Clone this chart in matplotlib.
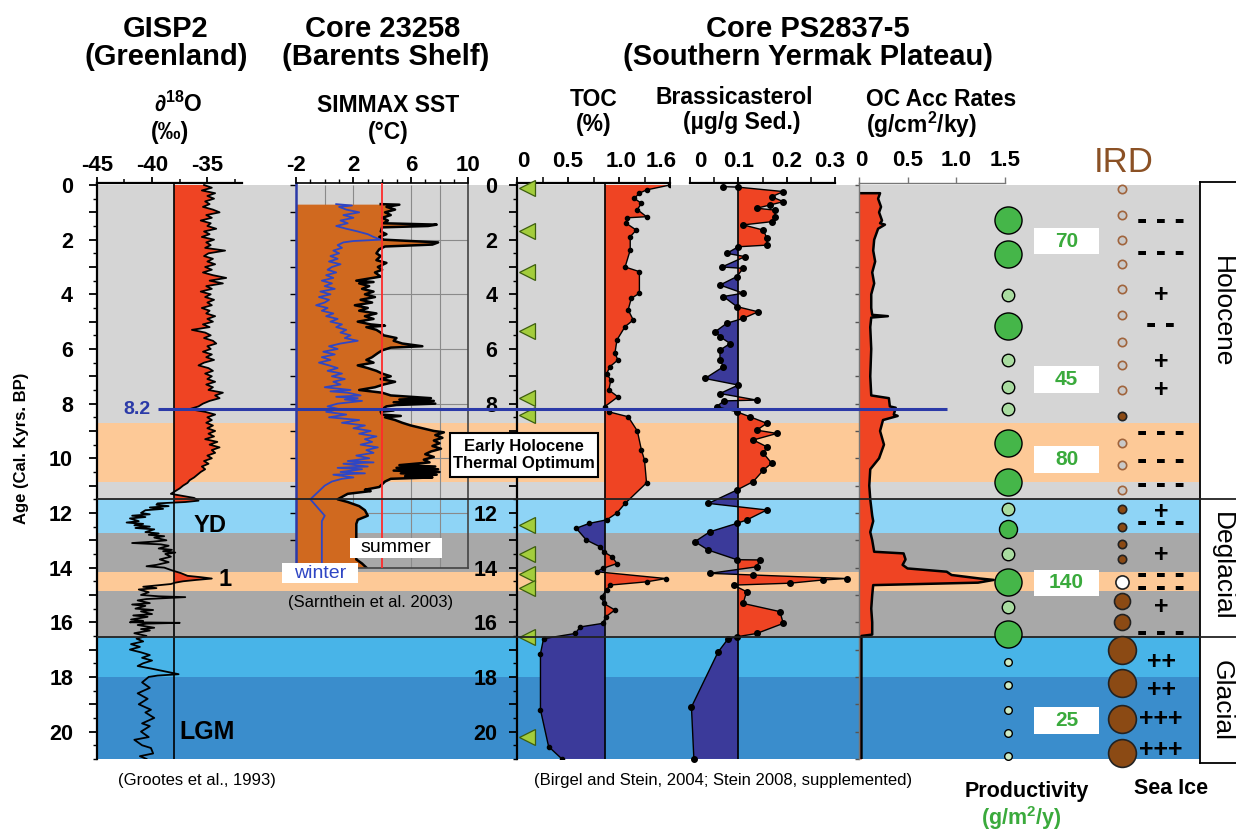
import matplotlib
matplotlib.use("Agg")
import matplotlib.pyplot as plt
from matplotlib.patches import Rectangle
from matplotlib.ticker import MultipleLocator
from matplotlib.transforms import ScaledTranslation
import numpy as np

plt.rcParams.update({
    "font.family": ["Liberation Sans", "DejaVu Sans"],
    "font.weight": "bold",
    "axes.unicode_minus": False,
    "mathtext.fontset": "custom",
    "mathtext.rm": "Liberation Sans:bold",
    "mathtext.bf": "Liberation Sans:bold",
    "mathtext.it": "Liberation Sans:bold:italic",
    "mathtext.default": "bf",
})

# ---------------- data ----------------
# climate stages (cal. kyr BP) used as background bands
band_top = [0.0, 8.7, 10.86, 11.5, 12.72, 14.15, 14.84, 16.55, 18.01]
band_bot = [8.7, 10.86, 11.5, 12.72, 14.15, 14.84, 16.55, 18.01, 21.0]
band_col = ["#d5d5d5", "#fdc997", "#d5d5d5", "#8ed4f6", "#a8a8a8",
            "#fdc997", "#a8a8a8", "#48b4e8", "#3a8dcc"]
stage_bounds = [11.5, 16.55]
stage_names = ["Holocene", "Deglacial", "Glacial"]
stage_mid = [4.64, 13.97, 18.87]

# GISP2 d18O (permil)
gisp_age = [
    0.0, 0.1, 0.2, 0.3, 0.4, 0.5, 0.6, 0.7, 0.8, 0.9,
    1.0, 1.1, 1.2, 1.3, 1.4, 1.5, 1.6, 1.7, 1.8, 1.9,
    2.0, 2.1, 2.2, 2.3, 2.4, 2.5, 2.6, 2.7, 2.8, 2.9,
    3.0, 3.1, 3.2, 3.3, 3.4, 3.5, 3.6, 3.7, 3.8, 3.9,
    4.0, 4.1, 4.2, 4.3, 4.4, 4.5, 4.6, 4.7, 4.8, 4.9,
    5.0, 5.1, 5.2, 5.3, 5.4, 5.5, 5.6, 5.7, 5.8, 5.9,
    6.0, 6.1, 6.2, 6.3, 6.4, 6.5, 6.6, 6.7, 6.8, 6.9,
    7.0, 7.1, 7.2, 7.3, 7.4, 7.5, 7.6, 7.7, 7.8, 7.9,
    8.0, 8.1, 8.2, 8.3, 8.4, 8.5, 8.6, 8.7, 8.8, 8.9,
    9.0, 9.1, 9.2, 9.3, 9.4, 9.5, 9.6, 9.7, 9.8, 9.9,
    10.0, 10.1, 10.2, 10.3, 10.4, 10.5, 10.6, 10.7, 10.8, 10.9,
    11.0, 11.1, 11.2, 11.3,
    11.35, 11.45, 11.55, 11.6, 11.65, 11.7, 11.75, 11.8, 11.85, 11.9,
    12.0, 12.05, 12.1, 12.15, 12.2, 12.3, 12.35, 12.4, 12.45, 12.5,
    12.55, 12.6, 12.7, 12.75, 12.8, 12.85, 12.9, 13.0, 13.05, 13.1,
    13.15, 13.2, 13.3, 13.35, 13.4, 13.45, 13.5, 13.6, 13.7, 13.8,
    13.9, 13.95, 14.0, 14.1, 14.2, 14.3, 14.35, 14.4, 14.45, 14.5,
    14.55, 14.6, 14.7, 14.75, 14.8, 14.9, 15.0, 15.05, 15.08, 15.15,
    15.2, 15.3, 15.35, 15.4, 15.5, 15.55, 15.6, 15.7, 15.75, 15.8,
    15.9, 15.95, 16.0, 16.02, 16.05, 16.1, 16.2, 16.25, 16.3, 16.4,
    16.5, 16.6, 16.7, 16.8, 16.9, 17.0, 17.1, 17.2, 17.3, 17.4,
    17.5, 17.6, 17.7, 17.8, 17.9, 17.95, 18.0, 18.2, 18.4, 18.6,
    18.8, 19.0, 19.2, 19.3, 19.5, 19.7, 19.8, 20.0, 20.2, 20.3,
    20.5, 20.6, 20.8, 20.9, 21.0,
]
gisp_d18o = [
    -35.3, -34.6, -35.5, -34.3, -35.0, -34.4, -35.2, -34.8, -35.4, -34.5,
    -33.9, -35.1, -34.6, -35.6, -34.7, -35.0, -34.2, -35.3, -34.8, -35.5,
    -34.4, -35.1, -34.7, -35.2, -33.4, -34.9, -35.3, -34.5, -35.0, -34.3,
    -35.2, -34.6, -35.4, -34.5, -33.3, -34.8, -33.6, -35.1, -34.6, -35.6,
    -34.7, -35.2, -34.4, -35.0, -34.6, -35.5, -34.8, -35.1, -34.3, -35.0,
    -34.5, -35.4, -34.8, -36.4, -35.2, -34.7, -35.3, -34.5, -34.2, -35.0,
    -34.7, -35.4, -34.6, -35.1, -34.4, -35.3, -35.8, -34.9, -34.5, -35.2,
    -34.6, -35.0, -34.3, -35.1, -34.5, -34.9, -33.6, -34.3, -33.9, -34.8,
    -35.4, -35.8, -36.6, -35.2, -34.3, -35.0, -34.6, -35.1, -34.5, -35.0,
    -34.3, -34.9, -34.4, -35.2, -34.1, -34.8, -33.9, -34.6, -34.3, -35.0,
    -34.6, -35.3, -34.9, -35.5, -35.2, -35.6, -35.9, -36.2, -36.6, -36.8,
    -37.2, -37.5, -37.9, -38.3,
    -37.6, -36.2, -35.8, -37.0, -39.5, -39.6, -38.5, -40.2, -39.0, -40.6,
    -41.0, -40.2, -41.8, -40.6, -42.0, -41.2, -42.3, -40.8, -41.6, -40.2,
    -41.5, -39.8, -40.6, -39.4, -40.3, -38.9, -39.8, -38.7, -39.9, -41.8,
    -39.2, -38.5, -39.4, -38.2, -39.0, -37.9, -38.8, -38.3, -39.3, -38.5,
    -39.6, -40.5, -38.9, -38.2, -37.4, -36.8, -35.6, -34.6, -36.0, -37.2,
    -37.9, -38.3, -40.8, -39.6, -41.2, -40.3, -41.0, -39.4, -37.0, -40.5,
    -41.3, -40.2, -41.8, -40.6, -41.5, -39.9, -41.0, -40.0, -41.7, -40.4,
    -41.9, -40.8, -42.0, -37.5, -40.5, -41.3, -39.8, -41.0, -40.2, -41.6,
    -40.5, -41.4, -40.8, -41.9, -41.1, -42.0, -41.0, -40.2, -40.9, -40.0,
    -40.8, -41.3, -40.0, -38.8, -37.6, -39.5, -40.3, -40.9, -40.2, -41.3,
    -40.4, -41.2, -40.1, -40.6, -39.8, -40.9, -40.2, -41.0, -40.3, -41.6,
    -40.9, -40.1, -39.9, -41.1, -40.5,
]
gisp_ref = -38.0

# Core 23258 SIMMAX SST (deg C)
sst_age = [
    0.7, 0.72, 0.8, 0.9, 1.0, 1.1, 1.2, 1.3, 1.4, 1.45,
    1.5, 1.55, 1.7, 1.8, 1.9, 2.0, 2.1, 2.18, 2.25, 2.35,
    2.5, 2.6, 2.75, 2.85, 3.0, 3.1, 3.2, 3.35, 3.5, 3.55,
    3.6, 3.7, 3.8, 3.9, 4.0, 4.1, 4.2, 4.3, 4.4, 4.5,
    4.6, 4.7, 4.8, 4.9, 5.0, 5.1, 5.15, 5.2, 5.3, 5.4,
    5.5, 5.6, 5.7, 5.8, 5.9, 5.95, 6.05, 6.15, 6.3, 6.4,
    6.5, 6.6, 6.7, 6.8, 6.9, 7.0, 7.1, 7.2, 7.3, 7.4,
    7.5, 7.6, 7.7, 7.8, 7.85, 7.9, 7.95, 8.0, 8.05, 8.1,
    8.2, 8.25, 8.3, 8.4, 8.45, 8.5, 8.6, 8.7, 8.8, 8.9,
    9.0, 9.05, 9.15, 9.25, 9.35, 9.45, 9.55, 9.65, 9.75, 9.85,
    9.95, 10.05, 10.15, 10.25, 10.3, 10.35, 10.4, 10.45, 10.5, 10.55,
    10.6, 10.65, 10.7, 10.75, 10.85, 10.95, 11.05, 11.15, 11.2, 11.3,
    11.5, 11.6, 11.75, 11.9, 12.1, 12.25, 12.4, 13.7, 13.85, 14.0,
]
sst_summer = [
    3.9, 5.2, 4.3, 4.9, 4.2, 4.6, 4.0, 4.4, 4.1, 7.8,
    7.2, 4.0, 3.9, 4.3, 3.8, 4.1, 7.9, 7.5, 4.2, 3.8,
    3.6, 3.9, 3.6, 4.3, 3.7, 4.0, 3.5, 3.9, 2.2, 3.4,
    2.4, 3.1, 2.6, 3.4, 2.8, 3.5, 2.5, 3.3, 2.1, 3.0,
    2.4, 3.6, 2.8, 3.4, 2.3, 3.2, 4.2, 2.9, 3.6, 3.9,
    4.1, 5.0, 4.8, 5.4, 6.8, 4.6, 4.0, 3.7, 3.3, 2.9,
    3.4, 2.3, 3.0, 3.6, 4.0, 4.6, 3.9, 4.9, 4.1, 3.5,
    2.4, 4.0, 4.6, 7.4, 5.2, 7.6, 4.8, 7.7, 5.0, 4.3,
    4.0, 4.8, 3.9, 4.0, 5.3, 4.2, 4.9, 5.4, 6.0, 6.8,
    7.6, 8.3, 7.7, 8.2, 7.6, 8.0, 7.5, 8.1, 7.4, 7.0,
    7.6, 6.9, 7.3, 5.2, 7.7, 5.0, 7.9, 4.8, 8.0, 5.3,
    7.8, 5.6, 7.5, 4.6, 4.2, 4.0, 3.8, 2.8, 3.2, 1.6,
    0.9, 1.6, 2.4, 2.8, 3.0, 2.3, 2.2, 2.2, 2.6, 2.9,
]
win_age = [
    0.7, 0.75, 0.8, 0.9, 1.0, 1.1, 1.2, 1.3, 1.4, 1.5,
    1.6, 1.7, 1.8, 1.9, 2.0, 2.05, 2.1, 2.2, 2.3, 2.4,
    2.5, 2.6, 2.7, 2.8, 2.9, 3.0, 3.1, 3.2, 3.3, 3.4,
    3.5, 3.6, 3.7, 3.8, 3.9, 4.0, 4.1, 4.2, 4.3, 4.4,
    4.5, 4.6, 4.7, 4.8, 4.9, 5.0, 5.1, 5.2, 5.3, 5.4,
    5.5, 5.6, 5.7, 5.8, 5.9, 6.0, 6.1, 6.2, 6.3, 6.4,
    6.5, 6.6, 6.7, 6.8, 6.9, 7.0, 7.1, 7.2, 7.3, 7.4,
    7.5, 7.55, 7.6, 7.7, 7.75, 7.8, 7.85, 7.9, 8.0, 8.1,
    8.2, 8.3, 8.4, 8.5, 8.6, 8.7, 8.8, 8.9, 9.0, 9.1,
    9.2, 9.3, 9.4, 9.5, 9.6, 9.7, 9.8, 9.9, 10.0, 10.1,
    10.15, 10.2, 10.3, 10.35, 10.4, 10.5, 10.55, 10.6, 10.7, 10.75,
    10.85, 11.0, 11.2, 11.5, 11.8, 12.1, 12.3, 14.0,
]
sst_winter = [
    0.8, 1.9, 1.0, 1.5, 2.4, 1.3, 2.0, 1.1, 1.6, 0.8,
    1.5, 2.3, 3.0, 3.4, 3.9, 2.0, 1.3, 0.9, 1.2, 0.6,
    1.0, 0.4, 0.9, 0.3, 1.1, 0.5, 0.2, 0.8, 0.1, 0.6,
    -0.2, 0.5, 0.0, 0.7, -0.3, 0.4, -0.4, 0.3, 0.0, -0.6,
    0.2, -0.2, 0.6, 0.1, 0.9, 0.4, 1.2, 0.8, 1.5, 1.1,
    1.8, 1.4, 2.3, 1.1, 0.3, 0.9, -0.1, 0.7, -0.2, 0.4,
    -0.4, 0.3, 0.9, 0.2, 1.2, 0.5, 1.4, 0.6, 1.1, 0.0,
    1.8, 0.4, 1.6, 2.5, 0.8, 2.3, 1.4, 2.6, 0.9, 0.2,
    1.0, 0.1, 1.5, 0.3, 2.4, 1.2, 2.8, 2.0, 3.2, 2.4,
    3.6, 2.8, 3.3, 2.5, 3.7, 2.9, 3.4, 2.2, 3.1, 1.6,
    3.4, 1.3, 3.0, 0.9, 2.6, 1.1, 2.8, 0.6, 2.0, 1.2,
    0.5, 0.0, -0.4, -1.0, -0.5, 0.0, -0.2, -0.2,
]
sst_ref = 4.0

# PS2837-5 total organic carbon (%)
toc_age = [
    0.0, 0.18, 0.3, 0.49, 0.67, 0.9, 1.16, 1.2, 1.4, 1.65,
    1.89, 2.38, 3.0, 3.17, 3.96, 4.15, 4.57, 4.94, 5.18, 5.67,
    6.16, 6.4, 6.65, 6.9, 7.14, 7.5, 7.75, 8.11, 8.3, 8.48,
    9.0, 9.7, 10.06, 10.9, 11.65, 12.0, 12.25, 12.38, 12.56, 12.99,
    13.23, 13.42, 13.6, 13.85, 14.03, 14.15, 14.4, 14.52, 14.64, 14.82,
    15.06, 15.31, 15.55, 15.8, 16.04, 16.17, 16.41, 16.6, 17.15, 19.2,
    20.55, 21.0,
]
toc_val = [
    1.5, 1.27, 1.2, 1.15, 1.22, 1.18, 1.27, 1.08, 1.07, 1.17,
    1.11, 1.11, 1.06, 1.20, 1.20, 1.12, 1.09, 1.14, 1.06, 0.98,
    0.96, 0.99, 0.91, 0.88, 0.92, 0.90, 0.99, 0.86, 0.90, 1.09,
    1.18, 1.22, 1.25, 1.27, 1.06, 0.98, 0.88, 0.71, 0.58, 0.68,
    0.81, 0.85, 0.93, 0.98, 0.84, 0.78, 1.46, 1.27, 0.91, 0.88,
    0.83, 0.85, 0.96, 0.87, 0.84, 0.62, 0.57, 0.26, 0.23, 0.23,
    0.31, 0.44,
]
toc_ref = 0.86
toc_ticks = [0, 0.5, 1.0, 1.5]
toc_tick_labels = ["0", "0.5", "1.0", "1.6"]
# age labels of the TOC axis; 10 sits under the Early Holocene box
toc_age_labels = [str(i) if i % 2 == 0 and i != 10 else "" for i in range(21)]
# AMS 14C dated levels
date_age = [0.1, 1.7, 3.2, 5.35, 7.8, 8.4, 12.45, 13.5, 14.25, 14.75, 16.55, 20.2]

# PS2837-5 brassicasterol (ug/g sed.)
brass_age = [
    0.06, 0.08, 0.24, 0.43, 0.61, 0.73, 0.85, 0.92, 1.16, 1.34,
    1.46, 1.65, 1.95, 2.2, 2.26, 2.5, 2.62, 3.0, 3.05, 3.35,
    3.66, 3.96, 4.08, 4.45, 4.64, 4.88, 5.06, 5.37, 5.55, 5.8,
    6.04, 6.4, 6.65, 7.08, 7.32, 7.63, 7.87, 7.9, 8.11, 8.3,
    8.48, 8.72, 8.97, 9.09, 9.33, 9.58, 9.82, 10.18, 10.43, 10.85,
    11.16, 11.65, 11.89, 12.26, 12.38, 12.69, 13.05, 13.36, 13.71, 13.72,
    13.97, 14.21, 14.27, 14.4, 14.45, 14.57, 14.64, 14.88, 15.31, 15.61,
    16.04, 16.41, 16.53, 16.6, 17.09, 19.1, 21.0,
]
brass_val = [
    0.069, 0.10, 0.193, 0.169, 0.193, 0.166, 0.138, 0.176, 0.176, 0.17,
    0.11, 0.152, 0.159, 0.159, 0.10, 0.076, 0.114, 0.066, 0.11, 0.097,
    0.062, 0.11, 0.069, 0.097, 0.141, 0.11, 0.076, 0.052, 0.062, 0.083,
    0.062, 0.062, 0.069, 0.031, 0.10, 0.062, 0.138, 0.07, 0.055, 0.097,
    0.124, 0.159, 0.138, 0.18, 0.131, 0.159, 0.152, 0.169, 0.152, 0.131,
    0.097, 0.038, 0.159, 0.117, 0.097, 0.041, 0.010, 0.038, 0.097, 0.145,
    0.138, 0.041, 0.131, 0.324, 0.276, 0.207, 0.09, 0.117, 0.11, 0.186,
    0.193, 0.138, 0.097, 0.079, 0.058, 0.003, 0.008,
]
brass_ref = 0.1
brass_ticks = [0, 0.1, 0.2, 0.3]
brass_tick_labels = ["0", "0.1", "0.2", "0.3"]

# PS2837-5 organic carbon accumulation rates (g/cm2/ky)
oc_age = [
    0.3, 0.3, 0.5, 0.8, 1.0, 1.3, 1.4, 1.45, 1.6, 2.0,
    2.4, 2.8, 3.2, 3.6, 4.0, 4.5, 4.75, 4.8, 4.85, 5.2,
    6.0, 7.0, 7.7, 7.8, 8.1, 8.15, 8.4, 8.45, 8.6, 9.0,
    9.5, 10.0, 10.4, 11.0, 11.5, 12.1, 12.3, 12.7, 13.0, 13.42,
    13.48, 13.7, 13.9, 14.03, 14.15, 14.27, 14.4, 14.45, 14.55, 14.64,
    15.0, 15.5, 16.0, 16.45, 16.5, 21.0,
]
oc_val = [
    0.0, 0.22, 0.20, 0.23, 0.21, 0.24, 0.22, 0.27, 0.20, 0.16,
    0.15, 0.17, 0.14, 0.16, 0.13, 0.13, 0.14, 0.30, 0.13, 0.12,
    0.13, 0.12, 0.13, 0.31, 0.32, 0.38, 0.36, 0.40, 0.25, 0.22,
    0.26, 0.21, 0.12, 0.11, 0.12, 0.14, 0.15, 0.12, 0.14, 0.16,
    0.46, 0.48, 0.45, 0.50, 0.90, 0.95, 1.24, 1.38, 1.22, 0.15,
    0.14, 0.13, 0.14, 0.14, 0.03, 0.03,
]
oc_ticks = [0, 0.5, 1.0, 1.5]
oc_tick_labels = ["0", "0.5", "1.0", "1.5"]

# productivity classes
prod_age = [1.28, 2.54, 4.02, 5.15, 6.4, 7.38, 8.21, 9.43, 10.85, 11.87,
            12.6, 13.5, 14.51, 15.43, 16.43, 17.44, 18.3, 19.2, 20.06, 20.9]
prod_class = ["high", "high", "low", "high", "low", "low", "low", "high", "high", "low",
              "mid", "low", "high", "low", "high", "min", "min", "min", "min", "min"]
prod_rate = ["70", "45", "80", "140", "25"]
prod_rate_age = [2.05, 7.13, 10.03, 14.56, 19.58]

# IRD classes
ird_age = [0.16, 1.1, 2.0, 2.9, 3.8, 4.76, 5.76, 6.59, 7.5, 8.45, 9.43, 10.25,
           11.16, 11.87, 12.53, 13.14, 13.7, 14.51, 15.21, 15.98,
           17.01, 18.23, 19.55, 20.77]
ird_class = ["trace"] * 9 + ["few"] + ["trace"] * 3 + ["few"] * 4 + ["none"] \
    + ["common"] * 2 + ["abundant"] * 4

# sea ice cover
ice_age = [1.32, 2.48, 4.02, 5.12, 6.46, 7.5, 9.09, 10.09, 10.98, 11.95,
           12.38, 13.54, 14.27, 14.76, 15.45, 16.4, 17.47, 18.48, 19.55, 20.67]
ice_sym = ["- - -", "- - -", "+", "- -", "+", "+", "- - -", "- - -", "- - -", "+",
           "- - -", "+", "- - -", "- - -", "+", "- - -", "++", "++", "+++", "+++"]

# ---------------- styles ----------------
RED = "#ef4423"
NAVY = "#3b3a9a"
ORANGE = "#d0691f"
BLUE = "#2b3aa8"
GREEN = "#3aaa3c"
BROWN = "#8b4a14"

prod_ms = {"high": 19.5, "mid": 13, "low": 9, "min": 5.5}
prod_fc = {"high": "#45b649", "mid": "#45b649", "low": "#a9dca0", "min": "#cdeac4"}
ird_ms = {"trace": 6, "few": 6, "none": 9.5, "common": 11.5, "abundant": 20}
ird_fc = {"trace": "#c9c9c9", "few": BROWN, "none": "white", "common": BROWN, "abundant": BROWN}
ird_ec = {"trace": "#a0643c", "few": "#222222", "none": "#222222", "common": "#222222",
          "abundant": "#222222"}

# ---------------- layout (pixels) ----------------
W, H = 1236, 831
Y0, K = 185.0, 27.33      # row of age 0, pixels per kyr
TOP = 183.0

fig = plt.figure(figsize=(W / 100, H / 100), dpi=100)
fig.patch.set_facecolor("white")


def px_ax(x0, x1, y0, y1, z=1):
    ax = fig.add_axes([x0 / W, 1 - y1 / H, (x1 - x0) / W, (y1 - y0) / H])
    ax.set_zorder(z)
    ax.patch.set_alpha(0)
    return ax


def age_ax(x0, x1, age_max=21.0, z=1):
    ax = px_ax(x0, x1, TOP, Y0 + K * age_max, z)
    ax.set_ylim(age_max, (TOP - Y0) / K)
    return ax


def ftext(x, y, s, **kw):
    kw.setdefault("ha", "center")
    kw.setdefault("va", "center")
    return fig.text(x / W, 1 - y / H, s, **kw)


def fbox(x0, x1, y0, y1, **kw):
    r = Rectangle((x0 / W, 1 - y1 / H), (x1 - x0) / W, (y1 - y0) / H,
                  transform=fig.transFigure, zorder=2.8, **kw)
    fig.patches.append(r)


def only_spines(ax, keep, lw=1.4, color="black"):
    for side, sp in ax.spines.items():
        if side in keep:
            sp.set_linewidth(lw)
            sp.set_color(color)
        else:
            sp.set_visible(False)


def nudge_xlabels(ax, shifts):
    # shift top tick labels sideways by a few pixels
    for lbl, dx in zip(ax.get_xticklabels(), shifts):
        if dx:
            lbl.set_transform(lbl.get_transform()
                              + ScaledTranslation(dx / 100, 0, fig.dpi_scale_trans))


def split_fill(ax, age, val, ref):
    age = np.asarray(age)
    val = np.asarray(val)
    hi = ax.fill_betweenx(age, ref, val, where=val >= ref, interpolate=True,
                          color=RED, lw=0, zorder=1)
    lo = ax.fill_betweenx(age, ref, val, where=val <= ref, interpolate=True,
                          color=NAVY, lw=0, zorder=1)
    return hi, lo


# background stages
bg = age_ax(97, 1200, z=0)
bg.set_xlim(0, 1)
bg.axis("off")
for a0, a1, c in zip(band_top, band_bot, band_col):
    bg.axhspan(a0, a1, color=c, lw=0)

# GISP2
ga = age_ax(96.7, 241.7)
ga.set_xlim(-45, -31.9)
g = np.asarray(gisp_d18o)
ga.fill_betweenx(gisp_age, gisp_ref, g, where=g >= gisp_ref, interpolate=True,
                 color=RED, lw=0, zorder=1)
ga.plot(gisp_d18o, gisp_age, color="black", lw=1.3, zorder=2)
ga.axvline(gisp_ref, color="black", lw=1.2, zorder=2)
only_spines(ga, ["left", "top"], lw=1.6)
ga.xaxis.tick_top()
ga.set_xticks([-45, -40, -35])
ga.set_xticks([-42.5, -37.5, -32.5], minor=True)
ga.set_yticks(range(21), [str(i) if i % 2 == 0 else "" for i in range(21)])
ga.yaxis.set_minor_locator(MultipleLocator(0.5))
ga.tick_params(axis="x", which="major", length=4, width=1.3, pad=1, labelsize=16)
ga.tick_params(axis="x", which="minor", length=3, width=1.1)
ga.tick_params(axis="y", which="major", length=6, width=1.3, pad=11, labelsize=15.5)
ga.tick_params(axis="y", which="minor", length=3, width=1.0)

# SIMMAX SST
sa = age_ax(296, 468.3, age_max=14.0)
sa.set_xlim(-2, 10)
sa.vlines([0, 2, 6, 8], 0, 14, color="#8a8a8a", lw=0.8, zorder=0.5)
sa.hlines(range(2, 14, 2), -2, 10, color="#8a8a8a", lw=0.8, zorder=0.5)
sa.fill_betweenx(sst_age, -2, sst_summer, color=ORANGE, lw=0, zorder=1)
sa.plot(sst_summer, sst_age, color="black", lw=1.8, zorder=2)
sa.plot(sst_winter, win_age, color="#2f46c4", lw=1.3, zorder=2)
sa.axvline(sst_ref, color="#ff2b2b", lw=1.3, zorder=3)
only_spines(sa, ["left", "top", "right", "bottom"], lw=1.2, color="#444444")
sa.spines["left"].set_color(BLUE)
sa.spines["left"].set_linewidth(1.8)
sa.spines["top"].set_color("black")
sa.xaxis.tick_top()
sa.set_xticks([-2, 2, 6, 10])
sa.xaxis.set_minor_locator(MultipleLocator(1))
sa.set_yticks(range(15), [""] * 15)
sa.tick_params(axis="x", which="major", length=4, width=1.3, pad=1, labelsize=16)
sa.tick_params(axis="x", which="minor", length=3, width=1.0)
sa.tick_params(axis="y", length=4, width=1.0)

# TOC
ta = age_ax(517, 670)
ta.set_xlim(0, 1.5)
split_fill(ta, toc_age, toc_val, toc_ref)
ta.plot(toc_val, toc_age, color="black", lw=1.0, marker="o", ms=3, zorder=2)
ta.axvline(toc_ref, color="black", lw=1.2, zorder=2)
ta.plot([0.1] * len(date_age), date_age, ls="none", marker="<", ms=11,
        mfc="#a3cd3c", mec="#3d5e0f", mew=0.9, zorder=3, clip_on=False)
only_spines(ta, ["left", "top"], lw=1.6)
ta.xaxis.tick_top()
ta.set_xticks(toc_ticks, toc_tick_labels)
ta.set_xticks([0.25, 0.75, 1.25], minor=True)
ta.set_yticks(range(21), toc_age_labels)
ta.yaxis.set_minor_locator(MultipleLocator(0.5))
ta.tick_params(axis="x", which="major", length=4, width=1.3, pad=4, labelsize=16)
ta.tick_params(axis="x", which="minor", length=4, width=1.1)
ta.tick_params(axis="y", which="major", length=6, width=1.3, pad=8, labelsize=15.5)
ta.tick_params(axis="y", which="minor", length=3, width=1.0)

# brassicasterol
ba = age_ax(690, 835)
ba.set_xlim(0, 0.3)
for pc in split_fill(ba, brass_age, brass_val, brass_ref):
    pc.set_clip_on(False)
ba.plot(brass_val, brass_age, color="black", lw=1.0, marker="o", ms=4, zorder=2,
        clip_on=False)
ba.axvline(brass_ref, color="black", lw=1.2, zorder=2)
only_spines(ba, ["top"], lw=1.6)
ba.xaxis.tick_top()
ba.set_xticks(brass_ticks, brass_tick_labels)
ba.xaxis.set_minor_locator(MultipleLocator(0.05))
ba.set_yticks([])
ba.tick_params(axis="x", which="major", length=4, width=1.3, pad=4, labelsize=16)
ba.tick_params(axis="x", which="minor", length=4, width=1.1)

# OC accumulation rates
oa = age_ax(858.5, 1005.5)
oa.set_xlim(0, 1.5)
oa.fill_betweenx(oc_age, 0, oc_val, color=RED, lw=0, zorder=1)
oa.plot(oc_val, oc_age, color="black", lw=1.8, zorder=2)
only_spines(oa, ["left", "top"], lw=1.0, color="#777777")
oa.xaxis.tick_top()
oa.set_xticks(oc_ticks, oc_tick_labels)
oa.set_yticks(range(22), [""] * 22)
oa.tick_params(axis="x", length=4, width=1.0, color="#777777", pad=5, labelsize=16)
oa.tick_params(axis="y", length=3, width=1.0, color="#555555")

# end labels of the crowded top axes sit slightly inside their ticks
nudge_xlabels(ta, [6, 0, 2, -9])
nudge_xlabels(ba, [10, 0, 0, -5])
nudge_xlabels(oa, [3, 0, 0, 0])

# overlay: stage boundaries, 8.2 event, symbol columns
ov = age_ax(0, W, z=2.5)
ov.set_xlim(0, W)
ov.axis("off")
ov.hlines(stage_bounds, 97, W, color="#222222", lw=1.3)
ov.hlines(8.2, 158, 947, color=BLUE, lw=2.2)
ov.text(137, 8.2, "8.2", color=BLUE, fontsize=14, ha="center", va="center")

for a, c in zip(prod_age, prod_class):
    ov.plot(1007.7, a, "o", ms=prod_ms[c], mfc=prod_fc[c], mec="black", mew=1.0,
            clip_on=False)
for s, a in zip(prod_rate, prod_rate_age):
    ov.add_patch(Rectangle((1034, a - 0.49), 65, 0.98, fc="white", ec="none"))
    ov.text(1066.5, a, s, color=GREEN, fontsize=15, ha="center", va="center")
for a, c in zip(ird_age, ird_class):
    ov.plot(1121.7, a, "o", ms=ird_ms[c], mfc=ird_fc[c], mec=ird_ec[c], mew=1.2,
            clip_on=False)
for a, s in zip(ice_age, ice_sym):
    size = 22 if "-" in s else 18
    ov.text(1161, a, s, fontsize=size, ha="center", va="center")

# stage label column
la = px_ax(1200, 1250, 182, 763, z=1)
la.set_ylim((763 - Y0) / K, (182 - Y0) / K)
la.set_xlim(0, 1)
only_spines(la, ["left", "top", "bottom"], lw=1.3)
la.set_xticks([])
la.set_yticks([])
for name, a in zip(stage_names, stage_mid):
    la.text(0.44, a, name, rotation=270, fontsize=19, fontweight="normal",
            ha="center", va="center")

# headers
ftext(166, 29, "GISP2", fontsize=21)
ftext(166, 57, "(Greenland)", fontsize=21)
ftext(383, 29, "Core 23258", fontsize=21)
ftext(386, 57, "(Barents Shelf)", fontsize=21)
ftext(808, 29, "Core PS2837-5", fontsize=21)
ftext(808, 57, "(Southern Yermak Plateau)", fontsize=21)
ftext(178, 103, "\u2202$^{18}$O", fontsize=16.5)
ftext(170, 133, "(\u2030)", fontsize=16.5)
ftext(388, 105, "SIMMAX SST", fontsize=16.5)
ftext(388, 132, "(\u00b0C)", fontsize=16.5)
ftext(594, 100, "TOC", fontsize=16.5)
ftext(594, 124, "(%)", fontsize=16.5)
ftext(734, 98, "Brassicasterol", fontsize=16.5)
ftext(742, 122, "(\u00b5g/g Sed.)", fontsize=16.5)
ftext(866, 99, "OC Acc Rates", fontsize=16.5, ha="left")
ftext(866, 125, "(g/cm$^2$/ky)", fontsize=16.5, ha="left")
ftext(1124, 163, "IRD", fontsize=25, fontweight="normal", color="#8b5125")
ftext(22, 448, "Age (Cal. Kyrs. BP)", fontsize=12, rotation=90)

# annotations
ftext(210, 525, "YD", fontsize=17)
ftext(225, 580, "1", fontsize=17)
ftext(207, 732, "LGM", fontsize=18)
fbox(450, 598, 433, 477, fc="white", ec="black", lw=1.5)
ftext(524, 455, "Early Holocene\nThermal Optimum", fontsize=12, linespacing=1.15)
fbox(350, 441.7, 538, 558, fc="white", ec="none")
ftext(396, 548, "summer", fontsize=14, fontweight="normal")
fbox(281.7, 358, 562.7, 583.3, fc="white", ec="none")
ftext(320, 573, "winter", fontsize=14, fontweight="normal", color="#2f46c4")

# sources and column footers
ftext(197, 780, "(Grootes et al., 1993)", fontsize=12, fontweight="normal")
ftext(371, 603, "(Sarnthein et al. 2003)", fontsize=12, fontweight="normal")
ftext(723, 781, "(Birgel and Stein, 2004; Stein 2008, supplemented)", fontsize=12,
      fontweight="normal")
ftext(1027, 792, "Productivity", fontsize=15.5)
ftext(1021, 818, "(g/m$^2$/y)", fontsize=15.5, color=GREEN)
ftext(1171, 788, "Sea Ice", fontsize=15.5)

fig.savefig("out.png", dpi=100)
